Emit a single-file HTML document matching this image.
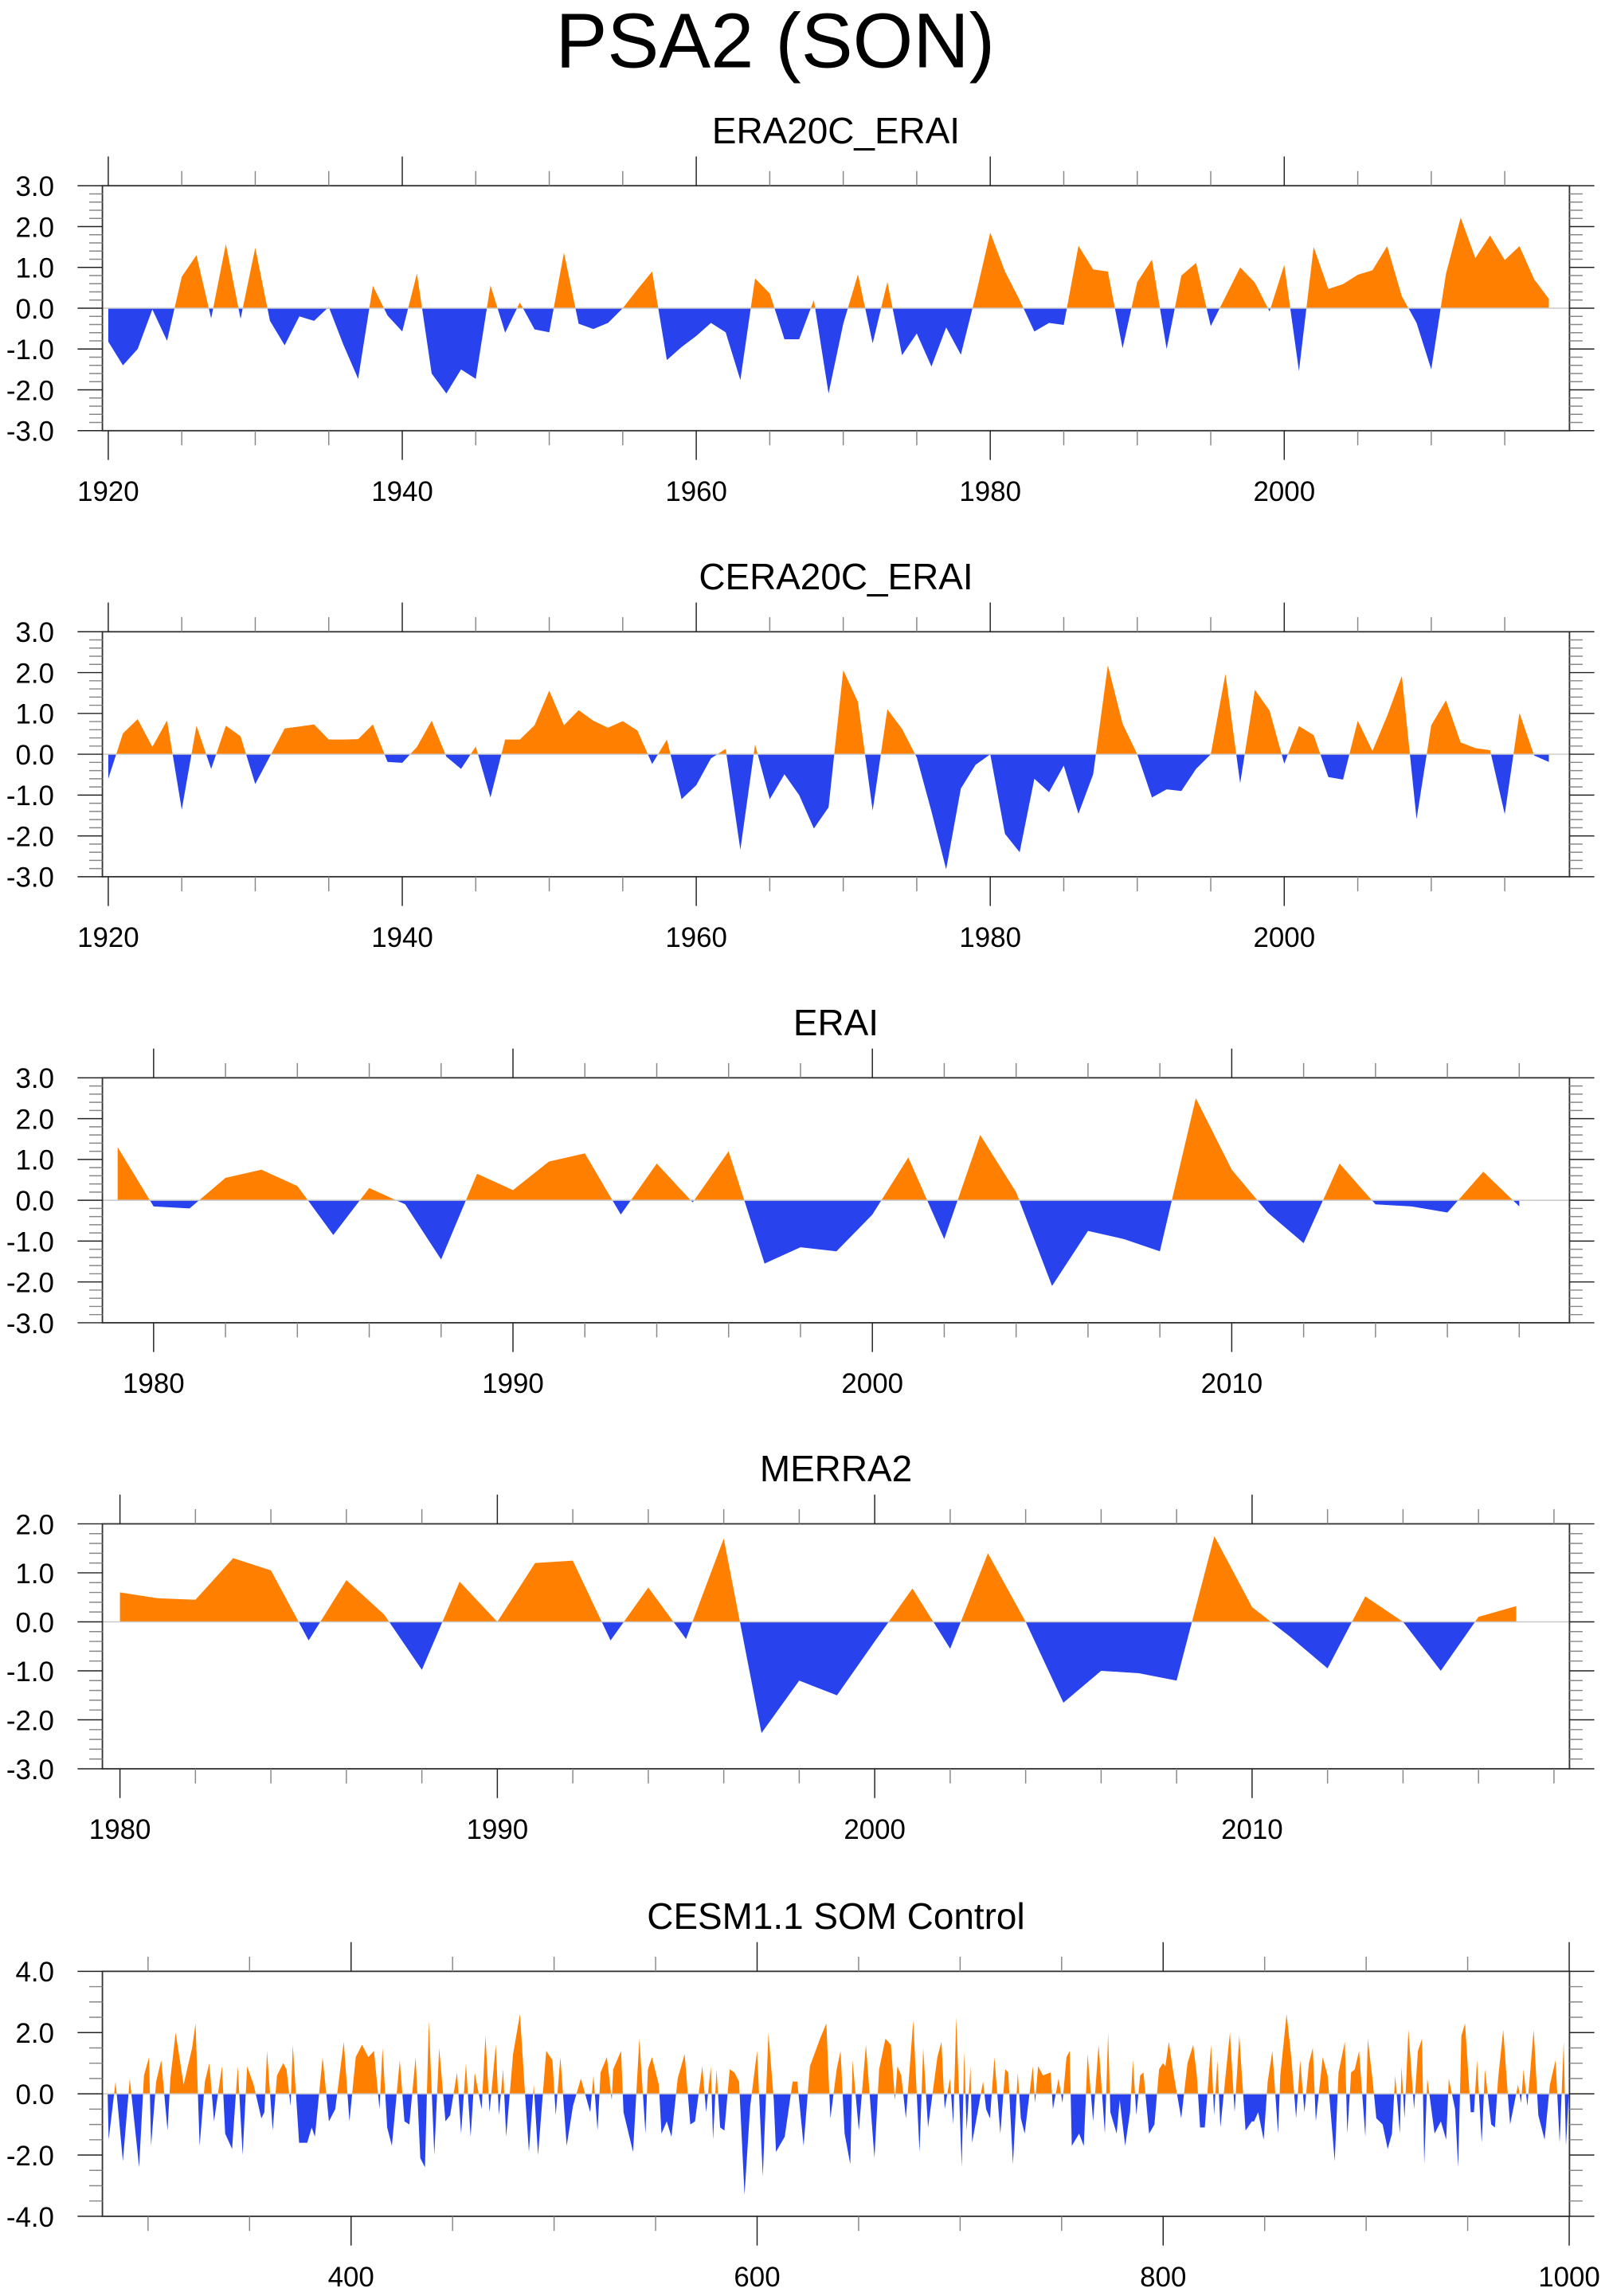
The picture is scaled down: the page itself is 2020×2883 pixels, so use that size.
<!DOCTYPE html>
<html><head><meta charset="utf-8"><style>
html,body{margin:0;padding:0;background:#fff;}
svg{display:block;font-family:"Liberation Sans",Arial,sans-serif;}
</style></head><body>
<svg id="fig" width="2020" height="2883" viewBox="0 0 1100 1570" xmlns="http://www.w3.org/2000/svg">
<text x="530" y="46" font-size="53" text-anchor="middle" fill="#000">PSA2 (SON)</text>
</svg>
<script>
// ---------- data ----------
const era20cYears = [];
for (let y = 1920; y <= 2018; y++) era20cYears.push(y);
const era20cVals = [-0.82,-1.4,-1.0,-0.03,-0.8,0.77,1.3,-0.25,1.57,-0.26,1.48,-0.31,-0.91,-0.2,-0.31,0.03,-0.9,-1.73,0.55,-0.18,-0.57,0.85,-1.6,-2.09,-1.5,-1.73,0.56,-0.6,0.14,-0.52,-0.59,
1.36,-0.38,-0.51,-0.36,0.0,0.46,0.9,-1.27,-0.95,-0.68,-0.36,-0.59,-1.76,0.73,0.36,-0.76,-0.76,0.2,-2.09,-0.38,0.83,-0.86,0.64,-1.15,-0.62,-1.43,-0.47,-1.14,0.3,1.85,0.9,0.2,-0.57,-0.36,-0.41,1.53,0.95,0.9,
-0.98,0.64,1.19,-1.0,0.8,1.11,-0.44,0.28,1.0,0.63,-0.08,1.06,-1.54,1.5,0.47,0.59,0.82,0.93,1.52,0.29,-0.36,-1.5,0.84,2.22,1.23,1.78,1.18,1.52,0.71,0.23];

const cera20cYears = era20cYears.slice();
const cera20cVals = [-0.6,0.51,0.86,0.18,0.83,-1.36,0.7,-0.36,0.7,0.44,-0.73,-0.05,0.63,0.68,0.73,0.36,0.36,0.37,0.73,-0.19,-0.21,0.18,0.82,-0.06,-0.36,0.19,-1.06,0.36,0.36,0.71,1.56,0.71,1.08,0.82,0.65,0.81,0.58,-0.24,0.36,-1.1,-0.76,-0.1,0.13,-2.34,0.24,-1.1,-0.49,-1.0,-1.82,-1.3,
2.06,1.28,-1.38,1.1,0.62,-0.08,-1.4,-2.82,-0.84,-0.26,0.0,-1.95,-2.4,-0.6,-0.93,-0.28,-1.46,-0.49,2.18,0.75,0.0,-1.06,-0.86,-0.9,-0.36,0.0,1.97,-0.71,1.58,1.07,-0.23,0.69,0.47,-0.56,-0.62,0.82,0.08,0.94,1.92,-1.59,0.71,1.32,0.29,0.15,0.1,-1.47,1.01,-0.03,-0.19];

const eraiYears = [];
for (let y = 1979; y <= 2018; y++) eraiYears.push(y);
const eraiVals = [1.3,-0.15,-0.2,0.55,0.75,0.35,-0.85,0.3,-0.1,-1.45,0.65,0.25,0.95,1.15,-0.35,0.9,-0.05,1.2,-1.55,-1.15,-1.25,-0.35,1.05,-0.95,1.6,0.2,-2.1,-0.75,-0.95,-1.25,2.5,0.75,-0.3,-1.05,0.9,-0.1,-0.15,-0.3,0.7,-0.15];

const merraYears = [];
for (let y = 1980; y <= 2017; y++) merraYears.push(y);
const merraVals = [0.6,0.48,0.45,1.3,1.05,-0.38,0.85,0.15,-0.98,0.82,0.0,1.2,1.25,-0.38,0.7,-0.35,1.7,-2.27,-1.2,-1.5,-0.4,0.68,-0.55,1.4,0.0,-1.65,-1.0,-1.05,-1.2,1.75,0.3,-0.3,-0.95,0.52,0.0,-1.0,0.1,0.32];

const cesmYears = [280,280.6,284,287.6,291,295.6,298,300.5,301.5,304,306.5,309.6,311,313.6,317.5,321.7,323.4,325.4,328,330.2,332.5,336.4,338,341.4,344.2,346.6,348.8,352,355.8,357.3,358.6,361.4,363.5,366.6,368.2,370.2,371.3,374.4,378.4,380.6,382.2,386,389.1,392.2,396.4,399.2,402.3,405.4,408.5,411.3,414,415.5,417.8,420.1,424,426.3,428.7,431.8,434.1,436.4,438.3,441,443.4,446.5,448.8,452.2,454.2,456.6,458.9,460.9,464.3,466.2,468.2,471.3,472.8,474.9,476.4,479.8,483.2,485.3,487.6,490,492.1,496.1,499.2,500.8,503.1,506.2,509.3,513.2,517.8,519.4,
521.4,522.9,526,528.4,529.1,533,534.2,538.9,542,545,546.2,548.2,551.6,552.9,555.5,557.8,560.9,564.3,567.1,569.4,573,574.9,577.2,578.3,580,581.8,583.9,586.5,588.8,591.1,593.8,596.6,600,602.8,605.6,608.2,609.3,613.6,617.5,619.8,622.9,626,628.8,631,634.1,636.1,639.2,641.1,643.1,645.9,647,650.1,653.6,657.8,660.1,663.2,665.9,667.9,669.1,671,673.3,676.9,680,681.8,684.2,688.8,690.8,692.4,695,696.6,698.1,700.8,702,703.2,705.1,705.9,711.3,712.8,714.7,716.9,719.8,722.2,723.7,726,728.4,729.9,731.8,735.8,736.9,738.4,740.8,744.6,745.7,748.5,750.4,752.4,754,755,758.6,760.9,762.8,
765.5,768.2,771.3,772.9,774,777.1,778.6,781.3,783.7,785.1,786.8,788.7,790.3,793.1,795.7,798,799.9,801.1,802.8,805,808.9,812,814.8,816.6,818.2,820.5,823.6,825.1,826.7,828.2,830.9,832.9,835.2,837.5,840.6,843.7,844.8,846.8,849.5,851.5,853.8,856.6,857.7,860.8,863.1,865.5,867.5,869.6,871.8,873.7,875.2,878.6,881,884.5,886.4,889.5,890.7,892.6,894.4,896.5,899.6,900.8,903.4,905,908.1,910.6,912.7,914.3,916.6,917.4,918.9,920.8,923.6,925.5,927.5,928.6,930.1,933.7,936.8,939.4,940.7,943.8,945.3,946.9,948.7,951.5,953.1,954.6,956.9,958.5,961.6,963.4,965,967.5,969.3,970.9,974.8,976.3,977.5,979.4,982.5,984.8,987.9,990.5,993.3,995.3,997.3,998.4,1000.3];
const cesmVals = [0.3,-1.5,0.4,-2.2,0.5,-2.4,0.6,1.2,-1.7,0.4,1.1,-1.2,0.5,2.0,0.3,1.5,2.3,-1.7,0.4,1.0,-0.9,0.9,-1.3,-1.8,0.9,-2.0,0.9,0.3,-0.8,-0.6,1.4,-1.2,0.6,1.0,0.8,-0.4,1.6,-1.6,-1.6,-1.1,-1.4,1.2,-0.9,-0.5,1.7,-0.9,1.2,1.6,1.2,1.4,-0.5,1.5,-1.1,-1.7,1.1,-0.9,-1.0,1.2,-2.1,-2.4,2.4,-2.0,1.5,-0.9,-0.7,0.7,-1.3,1.0,-1.4,0.7,-0.5,1.9,-0.6,1.6,-0.7,0.8,-1.4,1.3,2.6,0.4,-1.9,0.3,-2.0,1.4,1.1,-0.7,1.2,-1.7,-0.4,0.5,-0.6,0.6,
-1.2,0.7,1.2,-0.2,0.8,1.4,-0.6,-1.9,1.8,-1.3,0.8,1.2,0.3,-1.3,-0.9,-1.4,0.5,1.3,-1.0,-0.9,0.9,-0.6,0.9,-1.5,0.8,-1.1,-1.2,0.8,0.7,0.4,-3.3,-0.4,1.4,-2.7,2.0,-0.2,-1.9,-1.4,0.4,0.4,-1.7,0.9,1.4,1.8,2.3,-0.8,0.8,1.4,-1.3,-2.3,1.1,-1.2,1.6,-2.1,0.8,1.8,1.6,-0.2,0.9,0.6,-0.8,2.4,-1.9,1.5,-1.1,1.2,1.7,-0.5,0.5,-1.0,2.5,-2.4,1.4,-1.2,0.9,-1.6,0.4,-0.5,-0.8,1.2,-1.3,0.8,0.7,-2.3,0.7,-0.8,-1.3,0.9,-0.3,0.9,0.6,0.7,-0.5,0.5,-0.3,1.2,1.4,-1.7,-1.3,-1.7,1.3,
-0.9,1.6,-1.3,2.0,-0.6,-1.3,-0.2,-1.7,-0.6,1.1,-0.7,0.6,0.7,-1.3,-1.0,0.8,1.0,0.9,1.7,0.7,-0.8,1.0,1.6,0.6,-1.1,-1.1,1.6,-0.7,1.1,-1.1,0.7,2.0,-0.6,1.9,-1.2,-0.9,-0.9,-0.6,-1.5,0.4,1.4,-1.3,0.6,2.6,1.2,-0.8,1.1,-0.6,1.0,1.5,-0.9,1.2,0.6,-2.2,0.7,1.7,-1.3,0.7,0.8,1.4,-1.4,1.8,0.3,-0.8,-1.0,-1.8,-1.3,0.6,-1.3,0.9,-0.8,2.1,-0.5,1.4,1.8,-2.3,0.5,-1.3,-0.9,-1.5,0.5,-0.5,-2.4,1.9,2.3,-0.6,-0.6,1.1,-1.6,0.8,-1.0,-1.1,0.5,2.1,0.4,-1.0,0.3,-0.3,0.8,-0.4,2.1,-0.7,-1.5,0.3,1.1,-1.6,1.7,-1.7,0.6];

const p12XTicks = [1920,1940,1960,1980,2000];
const p34XTicks = [1980,1990,2000,2010];
const p5XTicks = [400,600,800,1000];

// ---------- drawing ----------
const NS = 'http://www.w3.org/2000/svg';
const svg = document.getElementById('fig');
const ORANGE = '#ff8000', BLUE = '#2842ee';
const L = 70, R = 1073;
function mk(tag, attrs, parent) {
  const e = document.createElementNS(NS, tag);
  for (const k in attrs) e.setAttribute(k, attrs[k]);
  (parent || svg).appendChild(e);
  return e;
}
let clipId = 0;
function panel(cfg) {
  const g = mk('g', {});
  
  
  const T = cfg.top, B = cfg.top + 167.5;
  const xs = v => L + (v - cfg.x0) / (cfg.x1 - cfg.x0) * (R - L);
  const ys = v => T + (cfg.y1 - v) / (cfg.y1 - cfg.y0) * (B - T);
  const title = mk('text', {x: 571.5, y: T - 29, 'font-size': 25, 'text-anchor': 'middle', fill: '#000'}, g);
  title.textContent = cfg.title;
  
  
  let d = 'M' + xs(cfg.years[0]) + ',' + ys(0);
  for (let i = 0; i < cfg.years.length; i++) d += 'L' + xs(cfg.years[i]).toFixed(2) + ',' + ys(cfg.vals[i]).toFixed(2);
  d += 'L' + xs(cfg.years[cfg.years.length - 1]) + ',' + ys(0) + 'Z';
  const id1 = 'c' + (clipId++), id2 = 'c' + (clipId++);
  const defs = mk('defs', {}, g);
  const c1 = mk('clipPath', {id: id1}, defs);
  mk('rect', {x: L, y: T, width: R - L, height: ys(0) - T}, c1);
  const c2 = mk('clipPath', {id: id2}, defs);
  mk('rect', {x: L, y: ys(0), width: R - L, height: B - ys(0)}, c2);
  const pos = mk('path', {d: d, fill: ORANGE, 'clip-path': 'url(#' + id1 + ')'}, g);
  
  
  const neg = mk('path', {d: d, fill: BLUE, 'clip-path': 'url(#' + id2 + ')'}, g);
  
  
  mk('line', {x1: L, x2: R, y1: ys(0), y2: ys(0), stroke: '#c8c8c8', 'stroke-width': 0.8}, g);
  const fr = mk('rect', {x: L, y: T, width: R - L, height: B - T, fill: 'none', stroke: '#333', 'stroke-width': 1}, g);
  
  
  const nMinor = Math.round((cfg.y1 - cfg.y0) / cfg.yMinor);
  for (let i = 0; i <= nMinor; i++) {
    const v = cfg.y0 + i * cfg.yMinor;
    const major = Math.abs(v / cfg.yMajor - Math.round(v / cfg.yMajor)) < 1e-6;
    const len = major ? 17 : 9;
    const col = major ? '#222' : '#888';
    mk('line', {x1: L - len, x2: L, y1: ys(v), y2: ys(v), stroke: col, 'stroke-width': 0.8}, g);
    mk('line', {x1: R, x2: R + len, y1: ys(v), y2: ys(v), stroke: col, 'stroke-width': 0.8}, g);
    if (major) {
      const t = mk('text', {x: 37, y: ys(v) + 7, 'font-size': 19, 'text-anchor': 'end', fill: '#000'}, g);
      t.textContent = v.toFixed(1);
      
      
    }
  }
  const start = Math.ceil(cfg.x0 / cfg.xMinor) * cfg.xMinor;
  for (let v = start; v <= cfg.x1 + 1e-6; v += cfg.xMinor) {
    const major = cfg.xTicks.indexOf(v) >= 0;
    const len = major ? 20 : 10;
    const col = major ? '#222' : '#888';
    mk('line', {x1: xs(v), x2: xs(v), y1: T - len, y2: T, stroke: col, 'stroke-width': 0.8}, g);
    mk('line', {x1: xs(v), x2: xs(v), y1: B, y2: B + len, stroke: col, 'stroke-width': 0.8}, g);
  }
  for (const v of cfg.xTicks) {
    const t = mk('text', {x: xs(v), y: B + 48, 'font-size': 19, 'text-anchor': 'middle', fill: '#000'}, g);
    t.textContent = String(v);
    
    
  }
}
panel({name: 'era20c-erai', title: 'ERA20C_ERAI', top: 127, years: era20cYears, vals: era20cVals,
  x0: 1920 - 4 / 10.05, x1: 1920 + (1073 - 74) / 10.05, y0: -3, y1: 3, yMajor: 1, yMinor: 0.2, xTicks: p12XTicks, xMinor: 5});
panel({name: 'cera20c-erai', title: 'CERA20C_ERAI', top: 432, years: cera20cYears, vals: cera20cVals,
  x0: 1920 - 4 / 10.05, x1: 1920 + (1073 - 74) / 10.05, y0: -3, y1: 3, yMajor: 1, yMinor: 0.2, xTicks: p12XTicks, xMinor: 5});
panel({name: 'erai', title: 'ERAI', top: 737, years: eraiYears, vals: eraiVals,
  x0: 1980 - 35 / 24.57, x1: 1980 + (1073 - 105) / 24.57, y0: -3, y1: 3, yMajor: 1, yMinor: 0.2, xTicks: p34XTicks, xMinor: 2});
panel({name: 'merra2', title: 'MERRA2', top: 1042, years: merraYears, vals: merraVals,
  x0: 1980 - 12 / 25.8, x1: 1980 + (1073 - 82) / 25.8, y0: -3, y1: 2, yMajor: 1, yMinor: 0.2, xTicks: p34XTicks, xMinor: 2});
panel({name: 'cesm-som-control', title: 'CESM1.1 SOM Control', top: 1348, years: cesmYears, vals: cesmVals,
  x0: 400 - 170 / 1.388, x1: 400 + 833 / 1.388, y0: -4, y1: 4, yMajor: 2, yMinor: 0.5, xTicks: p5XTicks, xMinor: 50});
</script>
</body></html>
